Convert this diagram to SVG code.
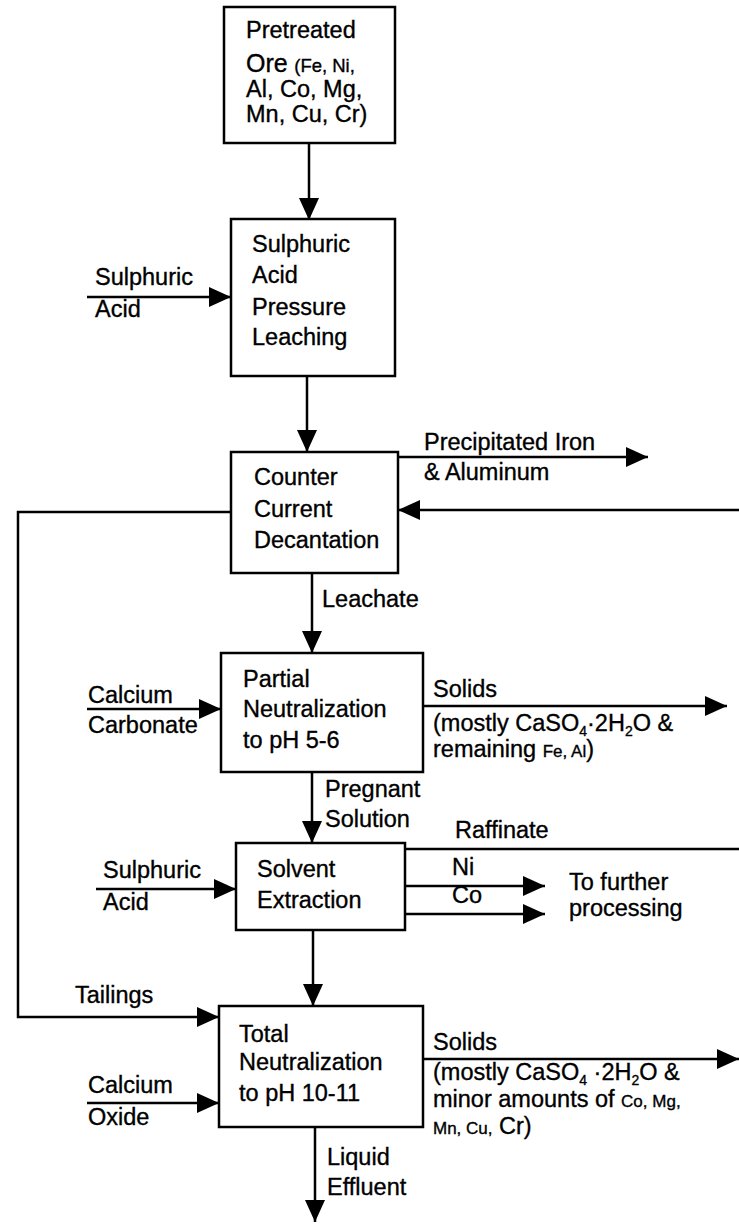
<svg xmlns="http://www.w3.org/2000/svg" width="739" height="1230" viewBox="0 0 739 1230">
<style>
text{font-family:"Liberation Sans",Arial,sans-serif;font-size:23.5px;fill:#000;stroke:#000;stroke-width:0.35}
.sm{font-size:17px}
.sub{font-size:14px}
.box{fill:#fff;stroke:#000;stroke-width:2.5}
.ln{fill:none;stroke:#000;stroke-width:2.5}
.ar{marker-end:url(#ah)}
</style>
<defs>
<marker id="ah" viewBox="0 0 22 20" refX="22" refY="10" markerWidth="22" markerHeight="20" markerUnits="userSpaceOnUse" orient="auto">
<path d="M0,0 L22,10 L0,20 z" fill="#000"/>
</marker>
</defs>
<rect width="739" height="1230" fill="#fff"/>
<g id="connectors">
<path class="ln ar" d="M309,144 V220"/>
<path class="ln ar" d="M87,297 H231"/>
<path class="ln ar" d="M307,376 V452"/>
<path class="ln ar" d="M397,457 H648"/>
<path class="ln ar" d="M739,510 H398"/>
<path class="ln ar" d="M231,512 H18 V1017 H219"/>
<path class="ln ar" d="M312,573 V653"/>
<path class="ln ar" d="M87,709 H221"/>
<path class="ln ar" d="M423,706 H727"/>
<path class="ln ar" d="M312,772 V843"/>
<path class="ln ar" d="M96,889 H236"/>
<path class="ln" d="M405,849 H739"/>
<path class="ln ar" d="M405,886 H545"/>
<path class="ln ar" d="M405,914 H545"/>
<path class="ln ar" d="M313,930 V1006"/>
<path class="ln ar" d="M87,1103 H219"/>
<path class="ln ar" d="M423,1059 H739"/>
<path class="ln ar" d="M315,1127 V1222"/>
</g>
<g id="labels">
<text x="95" y="285">Sulphuric</text>
<text x="95" y="317">Acid</text>
<text x="424" y="450">Precipitated Iron</text>
<text x="424" y="480">&amp; Aluminum</text>
<text x="322" y="607">Leachate</text>
<text x="88" y="703">Calcium</text>
<text x="88" y="733">Carbonate</text>
<text x="433" y="697">Solids</text>
<text x="433" y="731">(mostly  CaSO<tspan class="sub" dy="5">4</tspan><tspan dy="-5">·2H</tspan><tspan class="sub" dy="5">2</tspan><tspan dy="-5">O &amp;</tspan></text>
<text x="433" y="757">remaining <tspan class="sm">Fe, Al</tspan>)</text>
<text x="325" y="797">Pregnant</text>
<text x="325" y="827">Solution</text>
<text x="103" y="878">Sulphuric</text>
<text x="103" y="910">Acid</text>
<text x="455" y="838">Raffinate</text>
<text x="452" y="875">Ni</text>
<text x="452" y="903">Co</text>
<text x="569" y="890">To further</text>
<text x="569" y="916">processing</text>
<text x="75" y="1003">Tailings</text>
<text x="88" y="1093">Calcium</text>
<text x="88" y="1125">Oxide</text>
<text x="433" y="1050">Solids</text>
<text x="433" y="1080">(mostly CaSO<tspan class="sub" dy="5">4</tspan><tspan dy="-5"> ·2H</tspan><tspan class="sub" dy="5">2</tspan><tspan dy="-5">O &amp;</tspan></text>
<text x="433" y="1107">minor amounts of <tspan class="sm">Co, Mg,</tspan></text>
<text x="433" y="1134"><tspan class="sm">Mn, Cu,</tspan> Cr)</text>
<text x="327" y="1165">Liquid</text>
<text x="327" y="1195">Effluent</text>
</g>
<g id="n1">
<rect class="box" x="224" y="7" width="171" height="136"/>
<text x="246" y="38" font-size="22">Pretreated</text>
<text x="246" y="72"><tspan font-size="25">Ore</tspan> <tspan font-size="18.5">(Fe, Ni,</tspan></text>
<text x="246" y="97" font-size="19">Al, Co, Mg,</text>
<text x="246" y="122" font-size="19">Mn, Cu, Cr)</text>
</g>
<g id="n2">
<rect class="box" x="231" y="219" width="164" height="157"/>
<text x="252" y="252">Sulphuric</text>
<text x="252" y="283">Acid</text>
<text x="252" y="315">Pressure</text>
<text x="252" y="345">Leaching</text>
</g>
<g id="n3">
<rect class="box" x="231" y="452" width="167" height="121"/>
<text x="254" y="485">Counter</text>
<text x="254" y="517">Current</text>
<text x="254" y="548">Decantation</text>
</g>
<g id="n4">
<rect class="box" x="221" y="653" width="202" height="119"/>
<text x="243" y="687">Partial</text>
<text x="243" y="717">Neutralization</text>
<text x="243" y="748">to pH 5-6</text>
</g>
<g id="n5">
<rect class="box" x="236" y="843" width="169" height="87"/>
<text x="257" y="877">Solvent</text>
<text x="257" y="908">Extraction</text>
</g>
<g id="n6">
<rect class="box" x="219" y="1006" width="204" height="121"/>
<text x="239" y="1042">Total</text>
<text x="239" y="1070">Neutralization</text>
<text x="239" y="1101">to pH 10-11</text>
</g>
</svg>
